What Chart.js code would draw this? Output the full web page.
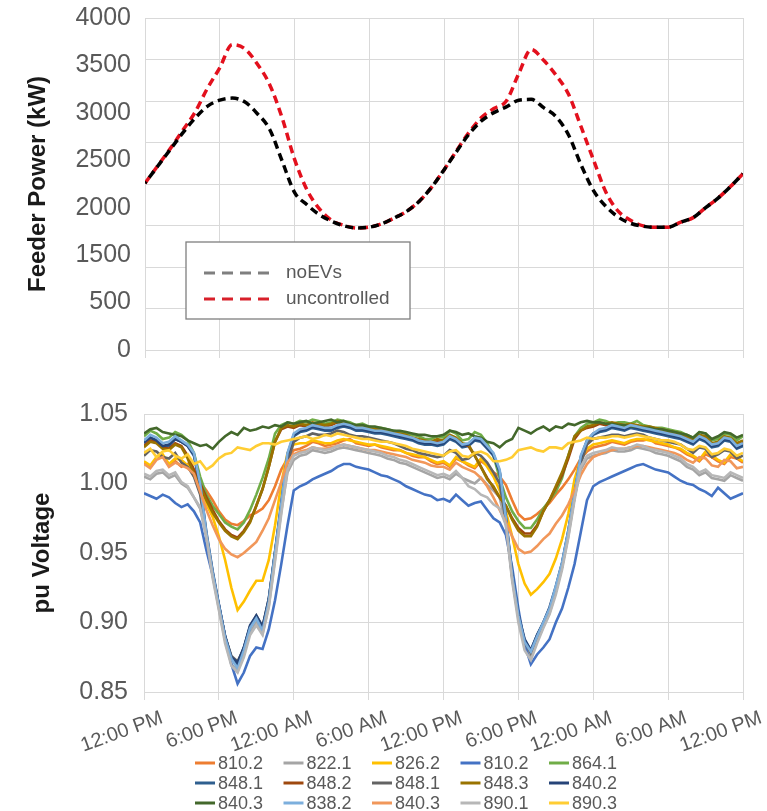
<!DOCTYPE html>
<html>
<head>
<meta charset="utf-8">
<script src="https://cdn.jsdelivr.net/npm/chart.js@4/dist/chart.umd.min.js"></script>
<style>
  html, body { margin: 0; padding: 0; background: #ffffff; }
  #wrap { position: relative; width: 767px; height: 811px; overflow: hidden; }
  #topBox { position: absolute; left: 0; top: 0; width: 767px; height: 380px; }
  #botBox { position: absolute; left: 0; top: 380px; width: 767px; height: 431px; }
</style>
</head>
<body>
<div id="wrap">
  <div id="topBox"><canvas id="powerChart" width="767" height="380"></canvas></div>
  <div id="botBox"><canvas id="voltChart" width="767" height="431"></canvas></div>
</div>
<script>
// ---------- data ----------
const timeTickLabels = ['12:00 PM','6:00 PM','12:00 AM','6:00 AM','12:00 PM','6:00 PM','12:00 AM','6:00 AM','12:00 PM'];
const powerTickLabels = ['0','500','1500','2000','2500','3000','3500','4000'];
const voltageTickLabels = ['0.85','0.90','0.95','1.00','1.05'];

// feeder power, hourly (hours after 12:00 PM)
const powerHours = [0,1,2,3,4,5,6,7,8,9,10,11,12,13,14,15,16,17,18,19,20,21,22,23,24,
  25,26,27,28,29,30,31,32,33,34,35,36,37,38,39,40,41,42,43,44,45,46,47,48];
const powerSeriesNames = ['noEVs','uncontrolled'];
const powerNoEVs = [2010,2210,2410,2610,2790,2935,3010,3035,2990,2850,2660,2280,1900,1750,1630,1550,1495,1470,1480,1520,1590,1670,1790,1960,2170,
  2390,2600,2760,2860,2930,3010,3020,2920,2810,2590,2230,1920,1730,1600,1525,1490,1478,1480,1540,1595,1715,1830,1970,2125];
const powerUncontrolled = [2010,2215,2420,2640,2860,3150,3400,3680,3630,3450,3200,2800,2300,1930,1700,1560,1500,1470,1480,1520,1590,1670,1790,1960,2170,
  2400,2620,2800,2910,3000,3330,3620,3490,3310,3080,2690,2290,1900,1670,1560,1495,1478,1480,1540,1595,1715,1830,1970,2125];

// bus voltages, every half hour
const voltHours = [0,0.5,1,1.5,2,2.5,3,3.5,4,4.5,5,5.5,6,6.5,7,7.5,8,8.5,9,9.5,10,10.5,11,11.5,12,
  12.5,13,13.5,14,14.5,15,15.5,16,16.5,17,17.5,18,18.5,19,19.5,20,20.5,21,21.5,22,22.5,23,23.5,24,
  24.5,25,25.5,26,26.5,27,27.5,28,28.5,29,29.5,30,30.5,31,31.5,32,32.5,33,33.5,34,34.5,35,35.5,36,
  36.5,37,37.5,38,38.5,39,39.5,40,40.5,41,41.5,42,42.5,43,43.5,44,44.5,45,45.5,46,46.5,47,47.5,48];

const busNames = ['810.2','822.1','826.2','810.2','864.1','848.1','848.2','848.1','848.3','840.2','840.3','838.2','840.3','890.1','890.3'];

const v810_2a = [1.015,1.012,1.018,1.020,1.013,1.016,1.012,1.014,1.005,1.001,0.995,0.988,0.980,0.974,0.971,0.970,0.973,0.977,0.979,0.982,0.988,0.998,1.010,1.018,1.024,
  1.025,1.027,1.030,1.029,1.027,1.028,1.029,1.031,1.032,1.029,1.028,1.027,1.028,1.026,1.025,1.024,1.024,1.022,1.020,1.019,1.019,1.016,1.014,1.015,
  1.012,1.018,1.016,1.013,1.011,1.016,1.013,1.008,1.005,0.999,0.988,0.978,0.974,0.975,0.978,0.982,0.986,0.992,0.997,1.003,1.010,1.018,1.023,1.026,
  1.027,1.028,1.030,1.029,1.028,1.030,1.031,1.031,1.032,1.029,1.028,1.027,1.026,1.024,1.021,1.019,1.016,1.021,1.019,1.016,1.014,1.019,1.018,1.015];
const v822_1 = [1.005,1.003,1.007,1.008,1.004,1.006,1.000,0.997,0.990,0.982,0.962,0.934,0.910,0.887,0.870,0.865,0.877,0.893,0.900,0.892,0.912,0.946,0.980,1.008,1.017,
  1.020,1.021,1.024,1.023,1.022,1.023,1.025,1.026,1.025,1.024,1.023,1.022,1.021,1.020,1.018,1.017,1.015,1.014,1.012,1.010,1.008,1.006,1.004,1.005,
  1.003,1.007,1.004,1.002,1.000,1.004,0.999,0.995,0.990,0.970,0.932,0.903,0.883,0.874,0.887,0.897,0.907,0.922,0.940,0.962,0.990,1.010,1.018,1.020,
  1.021,1.022,1.024,1.023,1.023,1.024,1.026,1.025,1.024,1.022,1.021,1.020,1.018,1.016,1.012,1.010,1.006,1.008,1.004,1.003,1.002,1.006,1.004,1.002];
const v826_2 = [1.016,1.013,1.019,1.021,1.014,1.018,1.017,1.013,1.008,0.998,0.985,0.976,0.962,0.945,0.925,0.909,0.915,0.923,0.930,0.930,0.945,0.970,1.000,1.022,1.028,
  1.029,1.029,1.031,1.030,1.029,1.029,1.031,1.032,1.031,1.030,1.029,1.028,1.028,1.027,1.026,1.025,1.024,1.022,1.021,1.020,1.019,1.017,1.015,1.016,
  1.013,1.019,1.016,1.014,1.012,1.018,1.012,1.005,0.995,0.980,0.962,0.942,0.928,0.920,0.924,0.929,0.935,0.946,0.960,0.978,1.003,1.018,1.025,1.028,
  1.029,1.030,1.031,1.030,1.029,1.031,1.032,1.032,1.031,1.030,1.029,1.028,1.026,1.025,1.022,1.020,1.017,1.023,1.020,1.017,1.015,1.021,1.019,1.016];
const v810_2b = [0.993,0.991,0.989,0.992,0.990,0.986,0.983,0.985,0.980,0.972,0.952,0.934,0.913,0.890,0.870,0.856,0.864,0.876,0.882,0.881,0.895,0.916,0.942,0.970,0.995,
  0.998,1.000,1.003,1.005,1.007,1.009,1.012,1.014,1.014,1.012,1.011,1.010,1.008,1.006,1.005,1.003,1.001,0.998,0.996,0.994,0.992,0.991,0.988,0.989,
  0.987,0.992,0.988,0.984,0.986,0.987,0.981,0.975,0.972,0.963,0.940,0.910,0.884,0.870,0.877,0.882,0.888,0.900,0.910,0.925,0.942,0.965,0.988,0.998,
  1.001,1.003,1.005,1.007,1.009,1.011,1.013,1.014,1.012,1.010,1.009,1.008,1.005,1.002,1.000,0.999,0.996,0.994,0.991,0.997,0.993,0.989,0.991,0.993];
const v864_1 = [1.034,1.038,1.036,1.032,1.033,1.037,1.035,1.031,1.022,1.005,0.992,0.984,0.978,0.972,0.969,0.967,0.972,0.981,0.992,1.004,1.018,1.036,1.042,1.044,1.043,
  1.045,1.044,1.046,1.045,1.043,1.044,1.046,1.045,1.044,1.042,1.043,1.041,1.040,1.040,1.039,1.038,1.037,1.036,1.035,1.034,1.032,1.032,1.034,1.033,
  1.038,1.036,1.031,1.032,1.037,1.035,1.029,1.020,1.004,0.990,0.980,0.973,0.968,0.968,0.974,0.982,0.988,0.994,1.004,1.020,1.034,1.040,1.043,1.044,
  1.046,1.045,1.043,1.044,1.044,1.043,1.045,1.042,1.041,1.040,1.040,1.039,1.038,1.037,1.035,1.033,1.037,1.036,1.031,1.032,1.036,1.035,1.031,1.034];
const v848_1a = [1.029,1.033,1.031,1.026,1.027,1.032,1.030,1.027,1.020,0.998,0.963,0.936,0.912,0.890,0.875,0.870,0.882,0.897,0.904,0.896,0.916,0.950,0.984,1.020,1.034,
  1.037,1.038,1.040,1.039,1.038,1.038,1.040,1.041,1.040,1.038,1.038,1.037,1.036,1.036,1.035,1.034,1.033,1.032,1.031,1.029,1.028,1.028,1.027,1.028,
  1.032,1.030,1.026,1.027,1.031,1.030,1.025,1.020,1.008,0.974,0.934,0.905,0.887,0.880,0.891,0.900,0.910,0.925,0.942,0.965,0.992,1.018,1.030,1.035,
  1.037,1.038,1.040,1.039,1.038,1.040,1.039,1.038,1.037,1.036,1.035,1.034,1.033,1.032,1.030,1.028,1.032,1.030,1.026,1.027,1.031,1.030,1.025,1.027];
const v848_2 = [1.027,1.031,1.030,1.026,1.025,1.029,1.027,1.020,1.010,1.000,0.990,0.981,0.973,0.967,0.963,0.961,0.966,0.973,0.984,0.996,1.012,1.030,1.039,1.041,1.040,
  1.042,1.041,1.043,1.042,1.041,1.042,1.044,1.043,1.042,1.040,1.040,1.039,1.038,1.038,1.037,1.036,1.035,1.034,1.033,1.031,1.030,1.029,1.031,1.030,
  1.034,1.032,1.028,1.027,1.020,1.012,1.004,0.997,0.990,0.984,0.975,0.968,0.964,0.964,0.970,0.980,0.988,0.997,1.006,1.018,1.032,1.038,1.040,1.041,
  1.043,1.042,1.043,1.042,1.041,1.042,1.041,1.040,1.040,1.039,1.038,1.037,1.036,1.035,1.033,1.030,1.034,1.033,1.028,1.029,1.033,1.032,1.028,1.030];
const v848_1b = [1.020,1.024,1.023,1.019,1.018,1.022,1.015,1.012,1.005,0.992,0.962,0.935,0.912,0.890,0.876,0.872,0.881,0.897,0.905,0.897,0.917,0.950,0.983,1.015,1.030,
  1.033,1.034,1.036,1.035,1.035,1.036,1.038,1.037,1.035,1.034,1.034,1.033,1.032,1.031,1.030,1.029,1.027,1.025,1.024,1.022,1.021,1.020,1.019,1.020,
  1.024,1.022,1.017,1.018,1.022,1.020,1.015,1.008,1.000,0.973,0.933,0.904,0.886,0.878,0.890,0.899,0.909,0.922,0.940,0.964,0.990,1.014,1.028,1.032,
  1.033,1.034,1.035,1.035,1.034,1.035,1.036,1.035,1.033,1.032,1.031,1.030,1.029,1.028,1.025,1.022,1.026,1.025,1.019,1.021,1.024,1.023,1.018,1.020];
const v848_3 = [1.026,1.030,1.029,1.025,1.024,1.028,1.026,1.018,1.007,0.998,0.988,0.979,0.972,0.966,0.962,0.960,0.965,0.972,0.984,0.996,1.012,1.030,1.040,1.042,1.041,
  1.043,1.042,1.044,1.043,1.042,1.043,1.045,1.044,1.042,1.041,1.041,1.040,1.039,1.039,1.038,1.037,1.036,1.035,1.033,1.032,1.031,1.030,1.032,1.031,
  1.035,1.033,1.029,1.028,1.020,1.012,1.003,0.998,0.990,0.984,0.974,0.966,0.962,0.962,0.969,0.980,0.988,0.998,1.008,1.020,1.034,1.038,1.041,1.042,
  1.044,1.043,1.044,1.043,1.042,1.043,1.042,1.041,1.041,1.040,1.039,1.038,1.037,1.036,1.034,1.031,1.035,1.034,1.029,1.030,1.034,1.033,1.029,1.031];
const v840_2 = [1.030,1.033,1.031,1.027,1.028,1.032,1.030,1.027,1.021,0.999,0.965,0.937,0.913,0.890,0.875,0.871,0.882,0.898,0.905,0.897,0.917,0.951,0.986,1.021,1.035,
  1.038,1.039,1.041,1.040,1.039,1.039,1.041,1.042,1.041,1.039,1.039,1.038,1.037,1.037,1.036,1.035,1.034,1.033,1.032,1.030,1.029,1.029,1.028,1.029,
  1.033,1.031,1.027,1.028,1.032,1.031,1.026,1.021,1.009,0.976,0.935,0.906,0.888,0.880,0.891,0.900,0.911,0.926,0.943,0.966,0.993,1.019,1.031,1.036,
  1.038,1.039,1.041,1.040,1.039,1.041,1.040,1.039,1.038,1.037,1.036,1.035,1.034,1.033,1.031,1.029,1.033,1.031,1.027,1.028,1.032,1.031,1.026,1.028];
const v840_3a = [1.036,1.039,1.040,1.037,1.036,1.035,1.034,1.031,1.029,1.027,1.028,1.025,1.030,1.034,1.037,1.035,1.040,1.038,1.039,1.041,1.040,1.042,1.041,1.044,1.043,
  1.044,1.045,1.043,1.044,1.045,1.046,1.044,1.045,1.043,1.042,1.042,1.041,1.041,1.040,1.039,1.038,1.038,1.037,1.036,1.035,1.035,1.034,1.034,1.035,
  1.038,1.037,1.035,1.036,1.034,1.033,1.030,1.029,1.026,1.030,1.032,1.040,1.038,1.036,1.039,1.041,1.038,1.041,1.040,1.043,1.042,1.044,1.045,1.044,
  1.044,1.043,1.043,1.042,1.042,1.041,1.041,1.040,1.040,1.039,1.039,1.038,1.037,1.036,1.035,1.033,1.037,1.036,1.032,1.034,1.037,1.036,1.033,1.035];
const v838_2 = [1.031,1.035,1.033,1.029,1.030,1.034,1.031,1.028,1.022,1.000,0.964,0.936,0.912,0.889,0.874,0.867,0.880,0.896,0.903,0.894,0.915,0.950,0.985,1.022,1.036,
  1.039,1.040,1.042,1.041,1.040,1.040,1.042,1.043,1.042,1.040,1.040,1.039,1.038,1.038,1.037,1.036,1.035,1.034,1.033,1.031,1.030,1.030,1.029,1.030,
  1.034,1.032,1.028,1.029,1.033,1.032,1.027,1.022,1.010,0.975,0.934,0.905,0.886,0.879,0.890,0.900,0.910,0.926,0.943,0.966,0.993,1.020,1.031,1.036,
  1.039,1.040,1.042,1.041,1.040,1.042,1.041,1.040,1.039,1.038,1.037,1.036,1.035,1.034,1.032,1.030,1.034,1.032,1.028,1.029,1.033,1.032,1.027,1.029];
const v840_3b = [1.014,1.011,1.017,1.019,1.012,1.015,1.013,1.011,1.007,0.994,0.981,0.970,0.960,0.953,0.949,0.947,0.950,0.954,0.958,0.966,0.975,0.988,1.001,1.015,1.021,
  1.023,1.024,1.026,1.025,1.025,1.026,1.027,1.028,1.027,1.026,1.025,1.024,1.024,1.023,1.022,1.021,1.020,1.019,1.017,1.016,1.015,1.013,1.012,1.012,
  1.010,1.015,1.012,1.010,1.008,1.004,0.998,0.990,0.981,0.972,0.962,0.953,0.950,0.951,0.955,0.960,0.964,0.971,0.977,0.985,0.995,1.006,1.014,1.019,
  1.021,1.023,1.024,1.025,1.025,1.026,1.027,1.027,1.026,1.025,1.024,1.023,1.022,1.020,1.017,1.015,1.019,1.018,1.013,1.012,1.017,1.016,1.011,1.012];
const v890_1 = [1.007,1.005,1.009,1.010,1.006,1.008,1.001,0.998,0.990,0.983,0.961,0.932,0.909,0.885,0.869,0.864,0.875,0.891,0.898,0.891,0.911,0.944,0.978,1.010,1.020,
  1.022,1.023,1.026,1.025,1.024,1.025,1.027,1.028,1.027,1.026,1.025,1.024,1.023,1.022,1.020,1.019,1.017,1.016,1.014,1.012,1.010,1.008,1.006,1.007,
  1.005,1.009,1.004,0.998,0.996,0.992,0.990,0.985,0.982,0.970,0.930,0.900,0.880,0.873,0.885,0.896,0.906,0.920,0.938,0.961,0.988,1.012,1.020,1.022,
  1.023,1.024,1.026,1.025,1.025,1.026,1.028,1.027,1.025,1.024,1.023,1.022,1.020,1.018,1.014,1.012,1.008,1.010,1.006,1.005,1.004,1.008,1.006,1.004];
const v890_3 = [1.022,1.025,1.019,1.023,1.024,1.020,1.018,1.021,1.014,1.016,1.010,1.013,1.018,1.021,1.022,1.026,1.025,1.024,1.027,1.029,1.029,1.028,1.030,1.031,1.032,
  1.033,1.034,1.032,1.033,1.035,1.034,1.036,1.035,1.034,1.033,1.032,1.032,1.031,1.030,1.030,1.029,1.028,1.027,1.025,1.024,1.023,1.022,1.021,1.020,
  1.023,1.024,1.020,1.019,1.022,1.023,1.021,1.016,1.016,1.017,1.019,1.024,1.025,1.026,1.024,1.023,1.026,1.026,1.025,1.029,1.030,1.031,1.033,1.032,
  1.033,1.033,1.034,1.034,1.033,1.034,1.035,1.034,1.033,1.032,1.031,1.031,1.030,1.028,1.025,1.024,1.027,1.026,1.021,1.022,1.025,1.024,1.020,1.022];

const voltageSeries = [v810_2a, v822_1, v826_2, v810_2b, v864_1, v848_1a, v848_2, v848_1b, v848_3, v840_2, v840_3a, v838_2, v840_3b, v890_1, v890_3];
const busColors = ['#ED7D31','#A5A5A5','#FFC000','#4472C4','#70AD47','#2F5F8F','#9E480E','#636363','#997300','#264478','#43682B','#7CAFDD','#F1975A','#B7B7B7','#FFCD33'];

// ---------- helpers ----------
const toPoints = (xs, vals) => vals.map((v, i) => ({ x: xs[i], y: v }));
Chart.defaults.font.family = "'Liberation Sans', Arial, Helvetica, sans-serif";
Chart.defaults.color = '#595959';
const GRID = '#d9d9d9';

// ---------- top chart ----------
const boxLegend = {
  id: 'boxLegend',
  afterDraw(chart) {
    const { ctx, chartArea } = chart;
    const x = chartArea.left + 41, y = chartArea.top + 224, w = 224, h = 77;
    ctx.save();
    ctx.fillStyle = '#ffffff';
    ctx.fillRect(x, y, w, h);
    ctx.strokeStyle = '#7f7f7f';
    ctx.lineWidth = 1.3;
    ctx.strokeRect(x, y, w, h);
    chart.data.datasets.forEach((ds, i) => {
      const ly = y + 31 + i * 26;
      ctx.beginPath();
      ctx.setLineDash([11, 7]);
      ctx.lineWidth = 3;
      ctx.strokeStyle = ds.legendColor || ds.borderColor;
      ctx.moveTo(x + 18, ly);
      ctx.lineTo(x + 90, ly);
      ctx.stroke();
      ctx.setLineDash([]);
      ctx.fillStyle = '#595959';
      ctx.font = "19px 'Liberation Sans', Arial, sans-serif";
      ctx.textBaseline = 'middle';
      ctx.textAlign = 'left';
      ctx.fillText(ds.label, x + 100, ly);
    });
    ctx.restore();
  }
};

new Chart(document.getElementById('powerChart'), {
  type: 'line',
  data: {
    datasets: [
      { label: powerSeriesNames[0], data: toPoints(powerHours, powerNoEVs), borderColor: '#000000', legendColor: '#7f7f7f',
        borderWidth: 3.5, borderDash: [8, 5], borderDashOffset: 6, pointRadius: 0, cubicInterpolationMode: 'monotone', fill: false, order: 1 },
      { label: powerSeriesNames[1], data: toPoints(powerHours, powerUncontrolled), borderColor: '#e3101d', legendColor: '#d8202a',
        borderWidth: 3.5, borderDash: [8, 5], pointRadius: 0, cubicInterpolationMode: 'monotone', fill: false, order: 2 }
    ]
  },
  options: {
    responsive: false, animation: false, devicePixelRatio: 1,
    layout: { padding: { left: 0, right: 24, top: 18, bottom: 22 } },
    plugins: { legend: { display: false }, tooltip: { enabled: false } },
    scales: {
      x: { type: 'linear', min: 0, max: 48,
        ticks: { display: false, stepSize: 6 },
        grid: { color: GRID, lineWidth: 1, tickLength: 8, drawTicks: true },
        border: { color: GRID },
        afterFit(s) { s.height = 8; s.paddingLeft = 0; s.paddingRight = 0; } },
      y: { type: 'linear', position: 'left', min: 0, max: 4000,
        ticks: { display: false, stepSize: 500 },
        grid: { color: GRID, lineWidth: 1, drawTicks: false },
        border: { color: GRID },
        afterFit(s) { s.width = 0; s.paddingTop = 0; s.paddingBottom = 0; } },
      yLabel: { type: 'linear', position: 'left', min: 0, max: 7,
        ticks: { stepSize: 1, padding: 14, color: '#595959', font: { size: 25 },
          callback: (v) => powerTickLabels[v] },
        grid: { display: false, drawTicks: false },
        border: { display: false },
        title: { display: true, text: 'Feeder Power (kW)', color: '#1a1a1a',
          font: { size: 24, weight: 'bold' }, padding: { top: 24, bottom: 0 } },
        afterFit(s) { s.width = 145; s.paddingTop = 0; s.paddingBottom = 0; } }
    }
  },
  plugins: [boxLegend]
});

// ---------- bottom chart ----------
const gridLegend = {
  id: 'gridLegend',
  afterDraw(chart) {
    const { ctx, chartArea } = chart;
    const x0 = chartArea.left + 51, y0 = chartArea.bottom + 71;
    ctx.save();
    ctx.font = "18px 'Liberation Sans', Arial, sans-serif";
    ctx.textBaseline = 'middle';
    ctx.textAlign = 'left';
    chart.data.datasets.forEach((ds, i) => {
      const col = i % 5, row = Math.floor(i / 5);
      const x = x0 + col * 88.5, y = y0 + row * 20;
      ctx.beginPath();
      ctx.strokeStyle = ds.borderColor;
      ctx.lineWidth = 3;
      ctx.moveTo(x, y);
      ctx.lineTo(x + 20, y);
      ctx.stroke();
      ctx.fillStyle = '#595959';
      ctx.fillText(ds.label, x + 23, y + 1);
    });
    ctx.restore();
  }
};

new Chart(document.getElementById('voltChart'), {
  type: 'line',
  data: {
    datasets: voltageSeries.map((vals, i) => ({
      label: busNames[i], data: toPoints(voltHours, vals), borderColor: busColors[i],
      borderWidth: 2.6, pointRadius: 0, tension: 0, fill: false, order: voltageSeries.length - i
    }))
  },
  options: {
    responsive: false, animation: false, devicePixelRatio: 1,
    layout: { padding: { left: 0, right: 24, top: 34, bottom: 49 } },
    plugins: { legend: { display: false }, tooltip: { enabled: false } },
    scales: {
      x: { type: 'linear', min: 0, max: 48,
        ticks: { stepSize: 6, autoSkip: false, maxRotation: 20, minRotation: 20, padding: 6, labelOffset: 18,
          color: '#595959', font: { size: 20 },
          callback: (v) => timeTickLabels[Math.round(v / 6)] },
        grid: { color: GRID, lineWidth: 1, tickLength: 8 },
        border: { color: GRID },
        afterFit(s) { s.height = 70; s.paddingLeft = 0; s.paddingRight = 0; } },
      y: { type: 'linear', position: 'left', min: 0.85, max: 1.05,
        ticks: { stepSize: 0.05, padding: 16, color: '#595959', font: { size: 25 },
          callback: (v, idx) => voltageTickLabels[idx] },
        grid: { color: GRID, lineWidth: 1, drawTicks: false },
        border: { color: GRID },
        title: { display: true, text: 'pu Voltage', color: '#1a1a1a',
          font: { size: 24, weight: 'bold' }, padding: { top: 28, bottom: 0 } },
        afterFit(s) { s.width = 144; s.paddingTop = 0; s.paddingBottom = 0; } }
    }
  },
  plugins: [gridLegend]
});
</script>
</body>
</html>
